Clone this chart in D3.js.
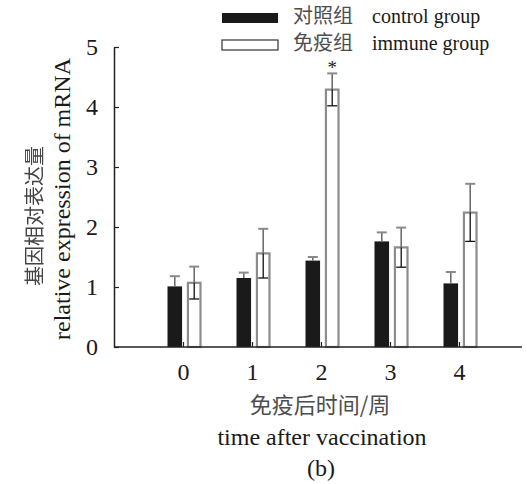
<!DOCTYPE html>
<html>
<head>
<meta charset="utf-8">
<script src="https://cdn.jsdelivr.net/npm/d3@7"></script>
<style>
  body { margin: 0; background: #fff; }
  svg { display: block; }
  .en { font-family: "Liberation Serif", "Times New Roman", serif; fill: #1a1a1a; }
  .zh { font-family: "Noto Sans CJK SC", sans-serif; fill: #4d4d4d; }
</style>
</head>
<body>
<svg id="chart" width="527" height="484"></svg>
<script>
const weeks = ["0", "1", "2", "3", "4"];
const groups = ["control", "immune"];
const controlMean = [1.01, 1.15, 1.44, 1.76, 1.06];
const controlErr = [0.17, 0.09, 0.06, 0.15, 0.19];
const immuneMean = [1.07, 1.56, 4.29, 1.66, 2.24];
const immuneErr = [0.27, 0.41, 0.27, 0.33, 0.48];
const immuneMarks = ["", "", "*", "", ""];
const yTicks = [0, 1, 2, 3, 4, 5];
const legendZh = ["对照组", "免疫组"];
const legendEn = ["control group", "immune group"];

const svg = d3.select("#chart");

// grey-only rasterising for the rotated CJK title
svg.append("defs").append("filter").attr("id", "grey")
  .append("feColorMatrix").attr("type", "saturate").attr("values", 0);

const y = d3.scaleLinear().domain([0, 5]).range([347, 47]);
const x = d3.scaleBand().domain(weeks).range([149, 494]);
const xSub = d3.scaleBand().domain(groups).range([-16, 18]).paddingInner(0.25);

const rows = weeks.flatMap((w, i) => [
  { week: w, group: "control", mean: controlMean[i], err: controlErr[i], mark: "" },
  { week: w, group: "immune", mean: immuneMean[i], err: immuneErr[i], mark: immuneMarks[i] }
]);

const cx = d => x(d.week) + x.bandwidth() / 2 + xSub(d.group);

// bars
svg.append("g").selectAll("rect")
  .data(rows)
  .join("rect")
  .attr("x", d => cx(d) + (d.group === "immune" ? 1 : 0))
  .attr("width", d => d.group === "immune" ? xSub.bandwidth() - 2 : xSub.bandwidth())
  .attr("y", d => y(d.mean))
  .attr("height", d => y(0) - y(d.mean))
  .attr("fill", d => d.group === "immune" ? "#fff" : "#1a1a1a")
  .attr("stroke", d => d.group === "immune" ? "#8c8c8c" : "none")
  .attr("stroke-width", 2.2);

// error bars
const eb = svg.append("g").selectAll("g")
  .data(rows)
  .join("g")
  .attr("transform", d => `translate(${cx(d) + xSub.bandwidth() / 2},0)`);
eb.append("line")
  .attr("y1", d => y(d.mean)).attr("y2", d => y(d.mean + d.err))
  .attr("stroke", "#6e6e6e").attr("stroke-width", 1.6);
eb.append("line")
  .attr("x1", -5).attr("x2", 5)
  .attr("y1", d => y(d.mean + d.err)).attr("y2", d => y(d.mean + d.err))
  .attr("stroke", "#8a8a8a").attr("stroke-width", 2);
eb.filter(d => d.group === "immune").append("line")
  .attr("y1", d => y(d.mean)).attr("y2", d => y(d.mean - d.err))
  .attr("stroke", "#111").attr("stroke-width", 1.3);
eb.filter(d => d.group === "immune").append("line")
  .attr("x1", -5).attr("x2", 5)
  .attr("y1", d => y(d.mean - d.err)).attr("y2", d => y(d.mean - d.err))
  .attr("stroke", "#111").attr("stroke-width", 1.3);
eb.filter(d => d.mark).append("text")
  .attr("class", "en")
  .attr("y", d => y(d.mean + d.err) + 1)
  .attr("text-anchor", "middle")
  .style("font-size", "19px")
  .text(d => d.mark);

// axes
const yAxis = d3.axisLeft(y).tickValues(yTicks).tickFormat(d3.format("d"))
  .tickSizeInner(-5).tickSizeOuter(0).tickPadding(16);
const gy = svg.append("g").attr("transform", "translate(114,0)").call(yAxis);
gy.select(".domain").attr("stroke", "#222").attr("stroke-width", 1.5);
gy.selectAll(".tick line").attr("stroke", "#222").attr("stroke-width", 1.2);
gy.selectAll("text").attr("class", "en").style("font-size", "24px").attr("fill", null);

const xAxis = d3.axisBottom(x).tickSizeInner(-5).tickSizeOuter(0).tickPadding(16);
const gx = svg.append("g").attr("transform", "translate(0,347)").call(xAxis);
gx.select(".domain").attr("d", "M114,0H522").attr("stroke", "#222").attr("stroke-width", 1.5);
gx.selectAll(".tick line").attr("stroke", "#222").attr("stroke-width", 1.2);
gx.selectAll("text").attr("class", "en").style("font-size", "24px").attr("fill", null);

// axis titles
svg.append("g")
  .attr("filter", "url(#grey)")
  .append("text").attr("class", "zh")
  .attr("transform", "translate(42,216) rotate(-90)")
  .attr("text-anchor", "middle").style("font-size", "20px")
  .style("fill", "#444")
  .text("基因相对表达量");
svg.append("g")
  .attr("transform", "translate(70,199) rotate(-90)")
  .append("text").attr("class", "en")
  .attr("text-anchor", "middle").style("font-size", "24px")
  .text("relative expression of mRNA");

svg.append("text").attr("class", "zh")
  .attr("x", 320).attr("y", 413)
  .attr("text-anchor", "middle").style("font-size", "22px")
  .text("免疫后时间/周");
svg.append("text").attr("class", "en")
  .attr("x", 322).attr("y", 445)
  .attr("text-anchor", "middle").style("font-size", "24px")
  .text("time after vaccination");
svg.append("text").attr("class", "en")
  .attr("x", 321).attr("y", 476)
  .attr("text-anchor", "middle").style("font-size", "24px")
  .text("(b)");

// legend
const lg = svg.append("g").selectAll("g")
  .data(groups)
  .join("g")
  .attr("transform", (d, i) => `translate(222,${13 + i * 27})`);
lg.append("rect")
  .attr("width", 56).attr("height", 10)
  .attr("fill", d => d === "control" ? "#1a1a1a" : "#fff")
  .attr("stroke", d => d === "control" ? "none" : "#333")
  .attr("stroke-width", 1.2);
lg.append("text").attr("class", "zh")
  .attr("x", 71).attr("y", 10)
  .style("font-size", "20px")
  .text((d, i) => legendZh[i]);
lg.append("text").attr("class", "en")
  .attr("x", 150).attr("y", 10)
  .style("font-size", "20px")
  .text((d, i) => legendEn[i]);
</script>
</body>
</html>
